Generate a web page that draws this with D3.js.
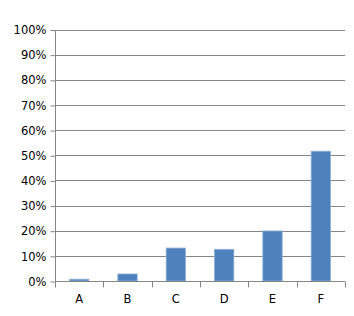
<!DOCTYPE html>
<html><head><meta charset="utf-8">
<script src="https://cdn.jsdelivr.net/npm/d3@7"></script>
<style>html,body{margin:0;padding:0;background:#fff;}</style>
</head><body>
<svg id="c" width="354" height="316"></svg>
<script>
const categories = ["A","B","C","D","E","F"];
const values = [0.007, 0.028, 0.131, 0.126, 0.199, 0.516];
const yTicks = [0,0.1,0.2,0.3,0.4,0.5,0.6,0.7,0.8,0.9,1.0];

const svg = d3.select("#c");
const m = {l:55, r:9, t:29.5, b:35};
const W = 354, H = 316;
const x = d3.scaleBand().domain(categories).range([m.l, W - m.r]).paddingInner(0.6).paddingOuter(0.3);
const xb = d3.scaleBand().domain(categories).range([m.l, W - m.r]);
const y = d3.scaleLinear().domain([0,1]).range([H - m.b, m.t]);
const font = "DejaVu Sans, sans-serif";
const grid = "#868686";

// gridlines
svg.append("g").selectAll("line").data(yTicks.filter(d=>d>0)).join("line")
  .attr("x1", m.l).attr("x2", W - m.r)
  .attr("y1", d=>Math.round(y(d))+0.5).attr("y2", d=>Math.round(y(d))+0.5)
  .attr("stroke", grid).attr("stroke-width", 1);

// bars
svg.append("g").selectAll("rect").data(values).join("rect")
  .attr("x", (d,i)=>x(categories[i]))
  .attr("width", x.bandwidth())
  .attr("y", d=>y(d))
  .attr("height", d=>y(0)-y(d))
  .attr("fill", "#4f81bd")
  .attr("stroke", "#8fb0da").attr("stroke-width", 0.8);

// y axis
const ya = svg.append("g").attr("transform", `translate(${m.l+0.5},0.5)`)
  .call(d3.axisLeft(y).tickValues(yTicks).tickFormat(d3.format(".0%")).tickSize(5).tickPadding(4));
ya.selectAll("path,line").attr("stroke", grid);
ya.select(".domain").attr("d", `M0,${y(1)}V${y(0)}`);
ya.selectAll("text").attr("font-family", font).attr("font-size", "11.5px").attr("fill", "#000");

// x axis
const xa = svg.append("g").attr("transform", `translate(0,${Math.round(y(0))+0.5})`);
xa.append("line").attr("x1", m.l).attr("x2", W - m.r).attr("stroke", grid);
const edges = categories.map(c=>xb(c)).concat([W - m.r]);
xa.selectAll("line.t").data(edges).join("line").attr("class","t")
  .attr("x1", d=>Math.round(d)+0.5).attr("x2", d=>Math.round(d)+0.5)
  .attr("y1", 0).attr("y2", 6).attr("stroke", grid);
xa.selectAll("text").data(categories).join("text")
  .attr("x", d=>xb(d)+xb.bandwidth()/2).attr("y", 21)
  .attr("text-anchor", "middle")
  .attr("font-family", font).attr("font-size", "11.5px").attr("fill", "#000")
  .text(d=>d);
</script>
</body></html>
